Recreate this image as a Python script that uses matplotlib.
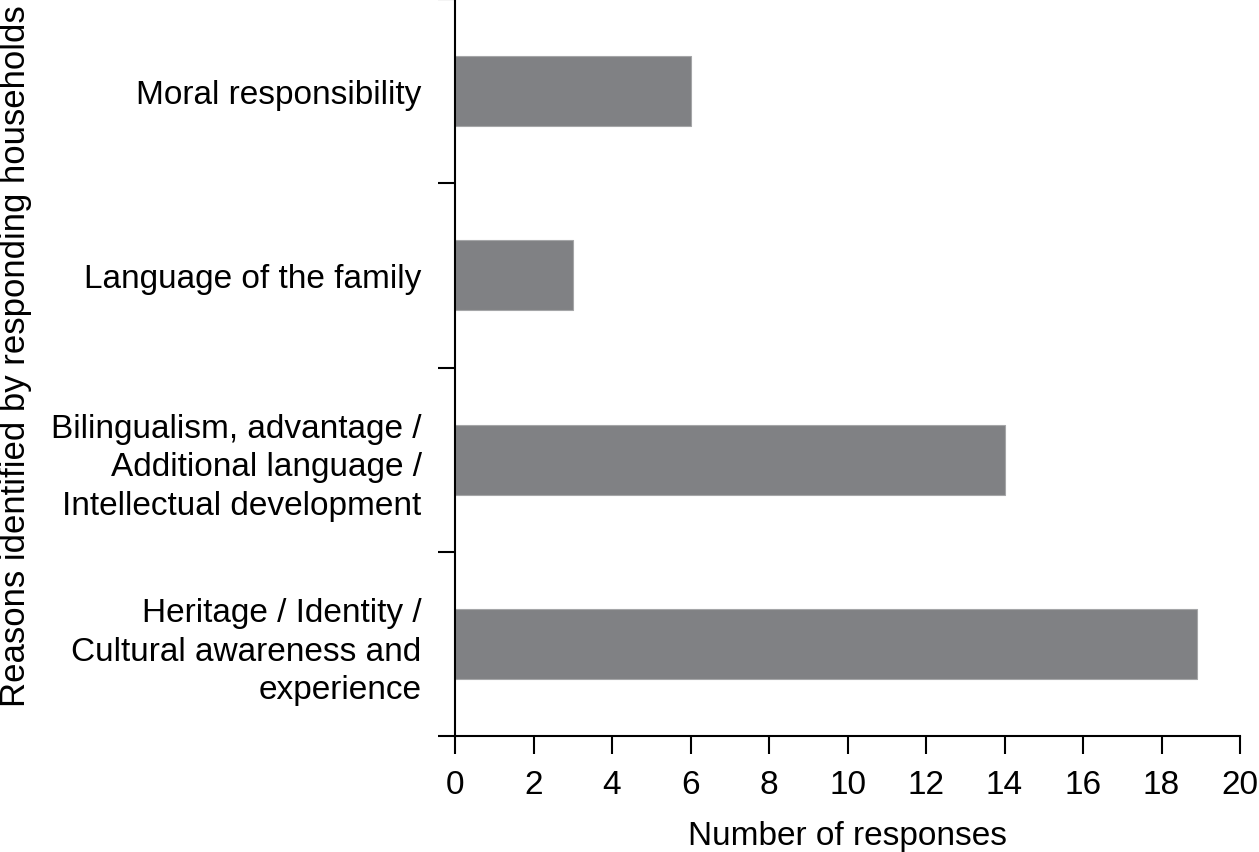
import matplotlib
matplotlib.use("Agg")
import matplotlib.pyplot as plt
import numpy as np

categories = [
    "Heritage / Identity /\nCultural awareness and\nexperience",
    "Bilingualism, advantage /\nAdditional language /\nIntellectual development",
    "Language of the family",
    "Moral responsibility",
]
responses = [18.9, 14, 3, 6]
x_ticks = [0, 2, 4, 6, 8, 10, 12, 14, 16, 18, 20]

plt.rcParams['font.family'] = ['Liberation Sans', 'DejaVu Sans']

fig = plt.figure(figsize=(12.59, 8.53), dpi=100)
ax = fig.add_axes([455/1259, (853-737)/853, (1240-455)/1259, 737/853])

y = np.arange(len(categories))
ax.barh(y, responses, height=0.38, color='#808184', edgecolor='#a5a6a8', linewidth=0.8)

ax.set_xlim(0, 20)
ax.set_ylim(-0.5, len(categories) - 0.5)
ax.set_xticks(x_ticks)
ax.set_xticklabels([str(t) for t in x_ticks])
ax.set_yticks(y)
ax.set_yticklabels(categories, linespacing=1.32)
ax.set_yticks(np.arange(-0.5, len(categories), 1.0), minor=True)

for s in ['top', 'right']:
    ax.spines[s].set_visible(False)
for s in ['left', 'bottom']:
    ax.spines[s].set_linewidth(1.5)
    ax.spines[s].set_color('black')

ax.tick_params(axis='y', which='major', length=0, pad=24, labelsize=24)
ax.tick_params(axis='y', which='minor', length=12.5, width=1.5, direction='out')
ax.tick_params(axis='x', which='major', length=13, width=1.5, direction='out', pad=11, labelsize=24)

ax.set_xlabel("Number of responses", fontsize=24, labelpad=14)
ax.set_ylabel("Reasons identified by responding households", fontsize=25)
ax.yaxis.set_label_coords((32 - 455) / 785, (737 - 356) / 737)

fig.savefig("out.png", dpi=100)
